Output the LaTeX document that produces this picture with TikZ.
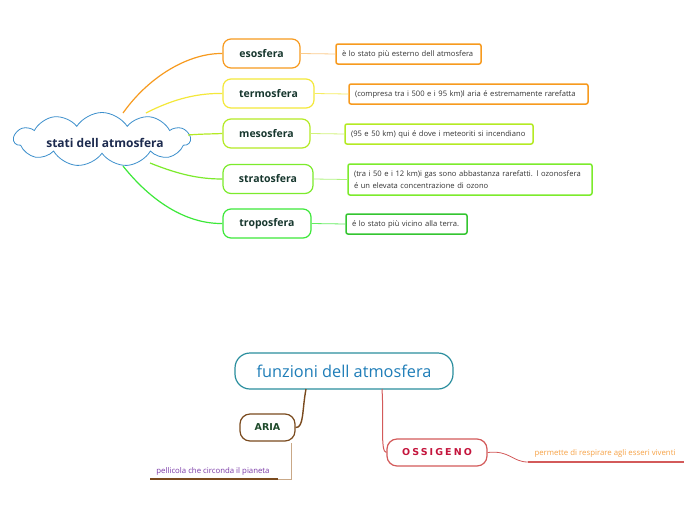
\documentclass[tikz,border=0pt]{standalone}
\usepackage{fontspec}
\setmainfont{Open Sans}
\usetikzlibrary{shapes.symbols}
\definecolor{cOrange}{HTML}{F79A1E}
\definecolor{cYellow}{HTML}{F4E83A}
\definecolor{cLime}{HTML}{B4EA24}
\definecolor{cGreenA}{HTML}{7CEB2C}
\definecolor{cGreenB}{HTML}{3DE83A}
\definecolor{cText}{HTML}{17372E}
\definecolor{cBlue}{HTML}{3C8FCC}
\definecolor{cNavy}{HTML}{1C2A4E}
\definecolor{cTeal}{HTML}{2A8E9E}
\definecolor{cTitle}{HTML}{1E7DB8}
\definecolor{cBrown}{HTML}{7A4A1E}
\definecolor{cBrownL}{HTML}{C9A887}
\definecolor{cRed}{HTML}{D35A5A}
\definecolor{cCrimson}{HTML}{C4143C}
\definecolor{cPurple}{HTML}{7A3AA8}
\definecolor{cPeach}{HTML}{F7A245}
\definecolor{cAria}{HTML}{1E4A2A}
\newfontfamily\heavyfont{DejaVu Sans}
\newfontfamily\heavyfontwide{DejaVu Sans}[LetterSpace=22]
\tikzset{
  layer/.style={draw=#1, line width=1.2pt, rounded corners=8pt, fill=white, text=cText, font=\fontsize{10.5}{13}\selectfont\bfseries, minimum height=29pt, inner xsep=8pt},
  desc/.style={draw=#1, line width=1.5pt, rounded corners=2pt, fill=white, text=black!80, font=\fontsize{7.6}{11.5}\selectfont, minimum height=20pt, inner xsep=6pt, align=left},
  branch/.style={draw=#1, line width=1.2pt},
  thin/.style={draw=#1, line width=0.8pt},
  tag/.style={draw=#1, line width=1.2pt, rounded corners=10pt, fill=white, minimum height=27pt}
}
\begin{document}
\begin{tikzpicture}[x=1pt,y=-1pt]
\useasboundingbox (0,0) rectangle (696,520);
\fill[white] (0,0) rectangle (696,520);

% cloud
\node[cloud, cloud puffs=11, cloud puff arc=115, aspect=3.26, draw=cBlue, line width=0.8pt, fill=white, minimum width=176pt, minimum height=54pt, inner sep=0pt] (cloud) at (102,139.5) {};
\node[text=cNavy, font=\fontsize{12}{14}\selectfont\bfseries] (ctext) at (105,143) {stati dell atmosfera};

% layer nodes
\node[layer=cOrange, minimum width=77pt] (eso) at (261.5,53.5) {esosfera};
\node[layer=cYellow, minimum width=91pt] (ter) at (268.5,93.5) {termosfera};
\node[layer=cLime, minimum width=87pt] (meso) at (266.5,133.5) {mesosfera};
\node[layer=cGreenA, minimum width=90pt] (strato) at (268,179) {stratosfera};
\node[layer=cGreenB, minimum width=88pt] (tropo) at (267,223.5) {troposfera};

% descriptions
\node[desc=cOrange, text width=133pt] (deso) at (408.5,54) {è lo stato più esterno dell atmosfera};
\node[desc=cOrange, text width=227pt] (dter) at (468.5,94) {(compresa tra i 500 e i 95 km)l aria é estremamente rarefatta};
\node[desc=cLime, text width=176pt] (dmeso) at (439,134) {(95 e 50 km) qui é dove i meteoriti si incendiano};
\node[desc=cGreenA, text width=232pt, minimum height=31pt] (dstrato) at (470,179.5) {(tra i 50 e i 12 km)i gas sono abbastanza rarefatti. l ozonosfera\\é un elevata concentrazione di ozono};
\node[desc=cGreenB!85!black, text width=109pt] (dtropo) at (406.5,224) {é lo stato più vicino alla terra.};

% branches from cloud
\coordinate (c1) at (123,113);
\coordinate (c2) at (146,113);
\coordinate (c3) at (188,135);
\coordinate (c4) at (150,163);
\coordinate (c5) at (123,166);
\draw[branch=cOrange] (c1) .. controls (150,75) and (190,53) .. (eso.west);
\draw[branch=cYellow] (c2) .. controls (175,98) and (200,93) .. (ter.west);
\draw[branch=cLime] (c3) .. controls (200,134) and (210,134) .. (meso.west);
\draw[branch=cGreenA] (c4) .. controls (180,175) and (200,179) .. (strato.west);
\draw[branch=cGreenB] (c5) .. controls (150,200) and (185,224) .. (tropo.west);

% links to descriptions
\draw[thin=cOrange!50] (eso.east) -- (deso.west);
\draw[thin=cYellow!80] (ter.east) -- (dter.west);
\draw[thin=cLime!60] (meso.east) -- (dmeso.west);
\draw[thin=cGreenA!60] (strato.east) -- (dstrato.west);
\draw[thin=cGreenB!80] (tropo.east) -- (dtropo.west);

% bottom part
\node[draw=cTeal, line width=1.2pt, rounded corners=15pt, fill=white, minimum width=218pt, minimum height=36pt, text=cTitle, font=\fontsize{16.3}{18}\selectfont] (fun) at (344,371) {funzioni dell atmosfera};

\node[tag=cBrown, text=cAria, minimum width=55pt, font=\heavyfont\fontsize{9.5}{10}\selectfont\bfseries] (aria) at (267.5,427.5) {ARIA};
\node[tag=cRed, text=cCrimson, minimum width=100pt, font=\heavyfontwide\fontsize{9.5}{10}\selectfont\bfseries] (oss) at (437,452.5) {OSSIGENO};

\coordinate (f1) at (306,389);
\coordinate (f2) at (382,389);
\draw[line width=1.4pt, draw=cBrown] (f1) .. controls (302,410) and (304,428) .. (aria.east);
\draw[line width=1pt, draw=cRed] (f2) .. controls (384,420) and (380,452) .. (oss.west);

% pellicola
\node[text=cPurple, font=\fontsize{7.8}{9}\selectfont, anchor=base] (pel) at (213,473) {pellicola che circonda il pianeta};
\coordinate (a1) at (291,443);
\coordinate (a2) at (291,479);
\coordinate (u1) at (278,479);
\coordinate (u2) at (150,479);
\draw[line width=0.8pt, draw=cBrownL] (a1) -- (a2) -- (u1);
\draw[line width=1.6pt, draw=cBrown] (u1) -- (u2);

% permette
\node[text=cPeach, font=\fontsize{7.8}{9}\selectfont, anchor=base] (perm) at (605,455) {permette di respirare agli esseri viventi};
\coordinate (o1) at (528,462);
\coordinate (o2) at (684,462);
\draw[line width=0.8pt, draw=cRed] (oss.east) .. controls (510,450) and (512,462) .. (o1);
\draw[line width=1.6pt, draw=cRed] (o1) -- (o2);
\end{tikzpicture}
\end{document}
